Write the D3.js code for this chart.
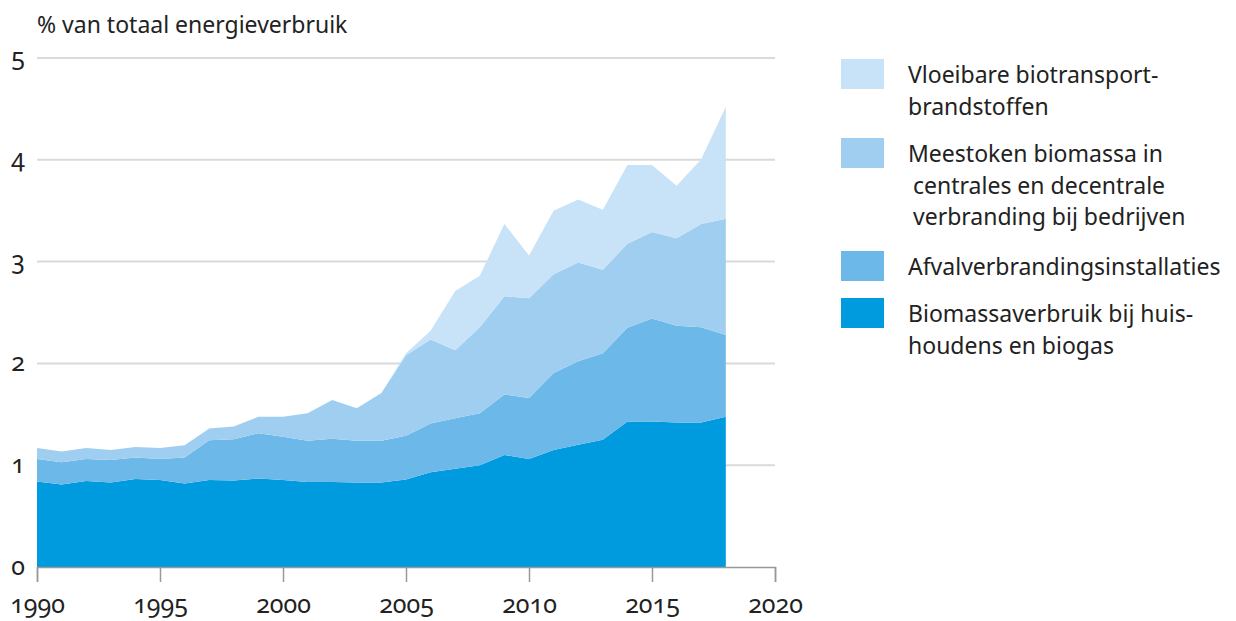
<!DOCTYPE html>
<html>
<head>
<meta charset="utf-8">
<script src="https://cdn.jsdelivr.net/npm/d3@7"></script>
<style>
  body { margin: 0; background: #fff; }
  svg text { font-family: "Noto Sans", "Open Sans", sans-serif; fill: #222; font-variant-numeric: oldstyle-nums; }
</style>
</head>
<body>
<svg id="chart" width="1236" height="621"></svg>
<script>
// data (% of total energy use)
var years = d3.range(1990, 2019);
var huishoudens = [0.84, 0.81, 0.845, 0.83, 0.865, 0.855, 0.82, 0.855, 0.85, 0.87,
    0.855, 0.835, 0.835, 0.83, 0.83, 0.86, 0.93, 0.966, 1.0, 1.10,
    1.06, 1.15, 1.20, 1.25, 1.43, 1.43, 1.42, 1.42, 1.475];
var afval = [0.22, 0.22, 0.215, 0.22, 0.21, 0.205, 0.255, 0.39, 0.405, 0.445,
    0.425, 0.405, 0.425, 0.41, 0.41, 0.43, 0.48, 0.494, 0.51, 0.595,
    0.60, 0.755, 0.82, 0.85, 0.92, 1.01, 0.95, 0.935, 0.805];
var meestoken = [0.11, 0.105, 0.11, 0.10, 0.105, 0.11, 0.12, 0.115, 0.125, 0.16,
    0.195, 0.27, 0.38, 0.32, 0.47, 0.79, 0.825, 0.67, 0.845, 0.965,
    0.98, 0.97, 0.97, 0.82, 0.825, 0.85, 0.86, 1.015, 1.14];
var biotransport = [0, 0, 0, 0, 0, 0, 0, 0, 0, 0,
    0, 0, 0, 0, 0, 0.02, 0.085, 0.58, 0.505, 0.71,
    0.42, 0.625, 0.62, 0.59, 0.775, 0.66, 0.515, 0.635, 1.10];

var keys = ["huishoudens", "afval", "meestoken", "biotransport"];
var colors = ["#009adf", "#6cb8e9", "#9fcef1", "#c8e3f8"];
var legendLabels = [
    ["Vloeibare biotransport-", "brandstoffen"],
    ["Meestoken biomassa in", " centrales en decentrale", " verbranding bij bedrijven"],
    ["Afvalverbrandingsinstallaties"],
    ["Biomassaverbruik bij huis-", "houdens en biogas"]
];
var xTicks = [1990, 1995, 2000, 2005, 2010, 2015, 2020];
var yTicks = [0, 1, 2, 3, 4, 5];

var table = years.map(function (y, i) {
    return { year: y, huishoudens: huishoudens[i], afval: afval[i], meestoken: meestoken[i], biotransport: biotransport[i] };
});

var svg = d3.select("#chart");
var x = d3.scaleLinear().domain([1990, 2020]).range([37, 775]);
var y = d3.scaleLinear().domain([0, 5]).range([567, 58]);

// grid
svg.append("g").selectAll("line")
    .data(yTicks.slice(1))
    .enter().append("line")
    .attr("x1", x(1990)).attr("x2", x(2020))
    .attr("y1", d => y(d)).attr("y2", d => y(d))
    .attr("stroke", "#dadada").attr("stroke-width", 2);

// stacked areas
var series = d3.stack().keys(keys)(table);
var area = d3.area()
    .x(d => x(d.data.year))
    .y0(d => y(d[0]))
    .y1(d => y(d[1]));
svg.append("g").selectAll("path")
    .data(series)
    .enter().append("path")
    .attr("d", area)
    .attr("fill", (d, i) => colors[i]);

// x axis
var xAxis = svg.append("g")
    .attr("transform", "translate(0," + y(0) + ")")
    .call(d3.axisBottom(x).tickValues(xTicks).tickFormat(d3.format("d")).tickSize(15).tickPadding(13));
xAxis.select(".domain").attr("stroke", "#999").attr("stroke-width", 1.5);
xAxis.selectAll(".tick line").attr("stroke", "#999").attr("stroke-width", 1.5);
xAxis.selectAll(".tick text").attr("font-size", 25).attr("fill", "#222")
    .style("font-family", "\"Noto Sans\", sans-serif");

// y labels
svg.append("g").selectAll("text")
    .data(yTicks)
    .enter().append("text")
    .attr("x", 25).attr("y", d => y(d))
    .attr("dy", "0.3em")
    .attr("text-anchor", "end")
    .attr("font-size", 25)
    .text(d => d);

// title
svg.append("text")
    .attr("x", 37).attr("y", 33)
    .attr("font-size", 23)
    .text("% van totaal energieverbruik");

// legend, top to bottom
var legendTop = [59, 138, 251, 298];
var legend = svg.append("g");
legendLabels.forEach(function (lines, i) {
    var c = colors[3 - i];
    legend.append("rect")
        .attr("x", 841).attr("y", legendTop[i])
        .attr("width", 43).attr("height", 30)
        .attr("fill", c);
    var t = legend.append("text")
        .attr("x", 908).attr("y", legendTop[i] + 24)
        .attr("font-size", 23);
    lines.forEach(function (l, j) {
        t.append("tspan")
            .attr("x", l[0] === " " ? 913 : 908)
            .attr("dy", j === 0 ? 0 : 31.5)
            .text(l.trim());
    });
});
</script>
</body>
</html>
